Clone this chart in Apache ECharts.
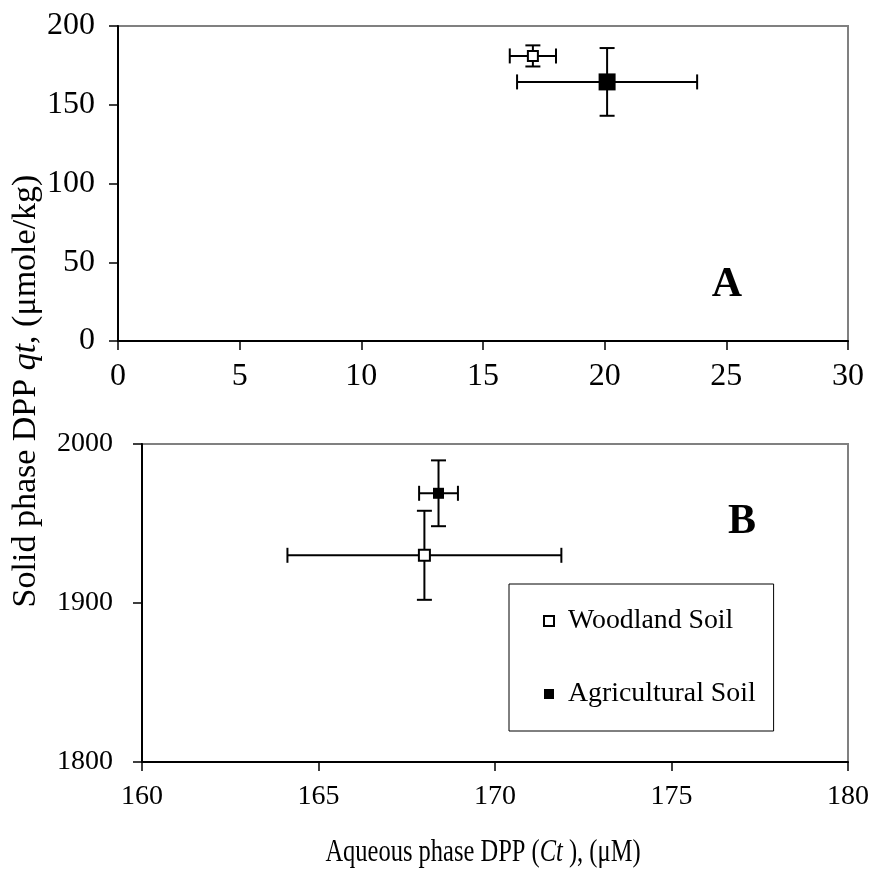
<!DOCTYPE html>
<html>
<head>
<meta charset="utf-8">
<script src="https://cdn.jsdelivr.net/npm/echarts@6/dist/echarts.min.js"></script>
<style>
html,body{margin:0;padding:0;background:#fff;}
#chart{width:875px;height:884px;}
</style>
</head>
<body>
<div id="chart"></div>
<script>
// ---- data ----
const seriesNames = ['Woodland Soil', 'Agricultural Soil'];
// Panel A
const panelA_ct    = [17.05, 20.1];
const panelA_qt    = [181, 164.5];
const panelA_ctErr = [0.95, 3.7];
const panelA_qtErr = [6.7, 21.5];
// Panel B
const panelB_ct    = [168.0, 168.4];
const panelB_qt    = [1930, 1969];
const panelB_ctErr = [3.88, 0.55];
const panelB_qtErr = [28, 20.7];
// axis ranges [min, max, interval]
const axisA_x = [0, 30, 5];
const axisA_y = [0, 200, 50];
const axisB_x = [160, 180, 5];
const axisB_y = [1800, 2000, 100];

const FONT = 'Liberation Serif, Times New Roman, serif';
const chart = echarts.init(document.getElementById('chart'));

function makeAxis(r, gi, labelMargin, fs) {
  return {
    gridIndex: gi, type: 'value', min: r[0], max: r[1], interval: r[2],
    axisLine: {show: true, onZero: false, lineStyle: {color: '#000', width: 2}},
    axisTick: {show: true, inside: false, length: 9, lineStyle: {color: '#000', width: 1.5}},
    axisLabel: {fontFamily: FONT, fontSize: fs, color: '#000', margin: labelMargin,
      formatter: v => String(v)},
    splitLine: {show: false}
  };
}

function errRender(params, api) {
  const x = api.value(0), y = api.value(1), xe = api.value(2), ye = api.value(3);
  const l = api.coord([x - xe, y]), r = api.coord([x + xe, y]);
  const t = api.coord([x, y + ye]), b = api.coord([x, y - ye]);
  const cap = 7.5;
  const st = {stroke: '#000', lineWidth: 2};
  const ln = (x1, y1, x2, y2) => ({type: 'line', shape: {x1, y1, x2, y2}, style: st});
  return {type: 'group', children: [
    ln(l[0], l[1], r[0], r[1]),
    ln(t[0], t[1], b[0], b[1]),
    ln(l[0], l[1] - cap, l[0], l[1] + cap),
    ln(r[0], r[1] - cap, r[0], r[1] + cap),
    ln(t[0] - cap, t[1], t[0] + cap, t[1]),
    ln(b[0] - cap, b[1], b[0] + cap, b[1])
  ]};
}

const styles = [
  {color: '#fff', borderColor: '#000', borderWidth: 2, opacity: 1},
  {color: '#000', borderColor: '#000', borderWidth: 0, opacity: 1}
];
const sizesA = [10, 17];
const sizesB = [11, 11];

const series = [];
[[panelA_ct, panelA_qt, panelA_ctErr, panelA_qtErr, 0, sizesA],
 [panelB_ct, panelB_qt, panelB_ctErr, panelB_qtErr, 1, sizesB]].forEach(p => {
  const [cx, qy, cxe, qye, gi, sz] = p;
  seriesNames.forEach((name, i) => {
    series.push({
      type: 'custom', name: name, xAxisIndex: gi, yAxisIndex: gi,
      renderItem: errRender, z: 2, silent: true,
      data: [[cx[i], qy[i], cxe[i], qye[i]]],
      itemStyle: styles[i]
    });
    series.push({
      type: 'scatter', name: name, xAxisIndex: gi, yAxisIndex: gi,
      symbol: 'rect', symbolSize: sz[i], z: 5,
      data: [[cx[i], qy[i]]],
      itemStyle: styles[i],
      emphasis: {disabled: true}
    });
  });
});

const option = {
  backgroundColor: '#fff',
  animation: false,
  grid: [
    {left: 118, right: 27, top: 26, height: 315, show: true, borderColor: '#808080', borderWidth: 2},
    {left: 142, right: 27, top: 444, height: 318, show: true, borderColor: '#808080', borderWidth: 2}
  ],
  xAxis: [makeAxis(axisA_x, 0, 20, 32), makeAxis(axisB_x, 1, 21, 28)],
  yAxis: [makeAxis(axisA_y, 0, 23, 32), makeAxis(axisB_y, 1, 29, 28)],
  legend: {
    orient: 'vertical', left: 509, top: 584,
    padding: [23, 18, 23, 34],
    itemGap: 45, itemWidth: 28, itemHeight: 10,
    borderColor: '#000', borderWidth: 1, backgroundColor: '#fff',
    textStyle: {fontFamily: FONT, fontSize: 27.8, color: '#000'},
    data: seriesNames.map(n => ({name: n, icon: 'path://M0,0 L10,0 L10,10 L0,10 Z'})),
    selectedMode: false
  },
  graphic: [
    {type: 'text', x: 26, y: 391, rotation: Math.PI / 2,
     style: {text: 'Solid phase DPP {i|qt}, (μmole/kg)', fontFamily: FONT, fontSize: 34, fill: '#000',
       textAlign: 'center', textVerticalAlign: 'middle',
       rich: {i: {fontStyle: 'italic', fontFamily: FONT, fontSize: 34, fill: '#000'}}}},
    {type: 'text', x: 483, y: 853, scaleX: 0.79,
     style: {text: 'Aqueous phase DPP ({i|Ct} ), (μM)', fontFamily: FONT, fontSize: 31, fill: '#000',
       textAlign: 'center', textVerticalAlign: 'middle',
       rich: {i: {fontStyle: 'italic', fontFamily: FONT, fontSize: 31, fill: '#000'}}}},
    {type: 'text', x: 727, y: 285,
     style: {text: 'A', fontFamily: FONT, fontSize: 42, fontWeight: 'bold', fill: '#000',
       textAlign: 'center', textVerticalAlign: 'middle'}},
    {type: 'text', x: 742, y: 522,
     style: {text: 'B', fontFamily: FONT, fontSize: 42, fontWeight: 'bold', fill: '#000',
       textAlign: 'center', textVerticalAlign: 'middle'}}
  ],
  series: series
};
chart.setOption(option);
</script>
</body>
</html>
